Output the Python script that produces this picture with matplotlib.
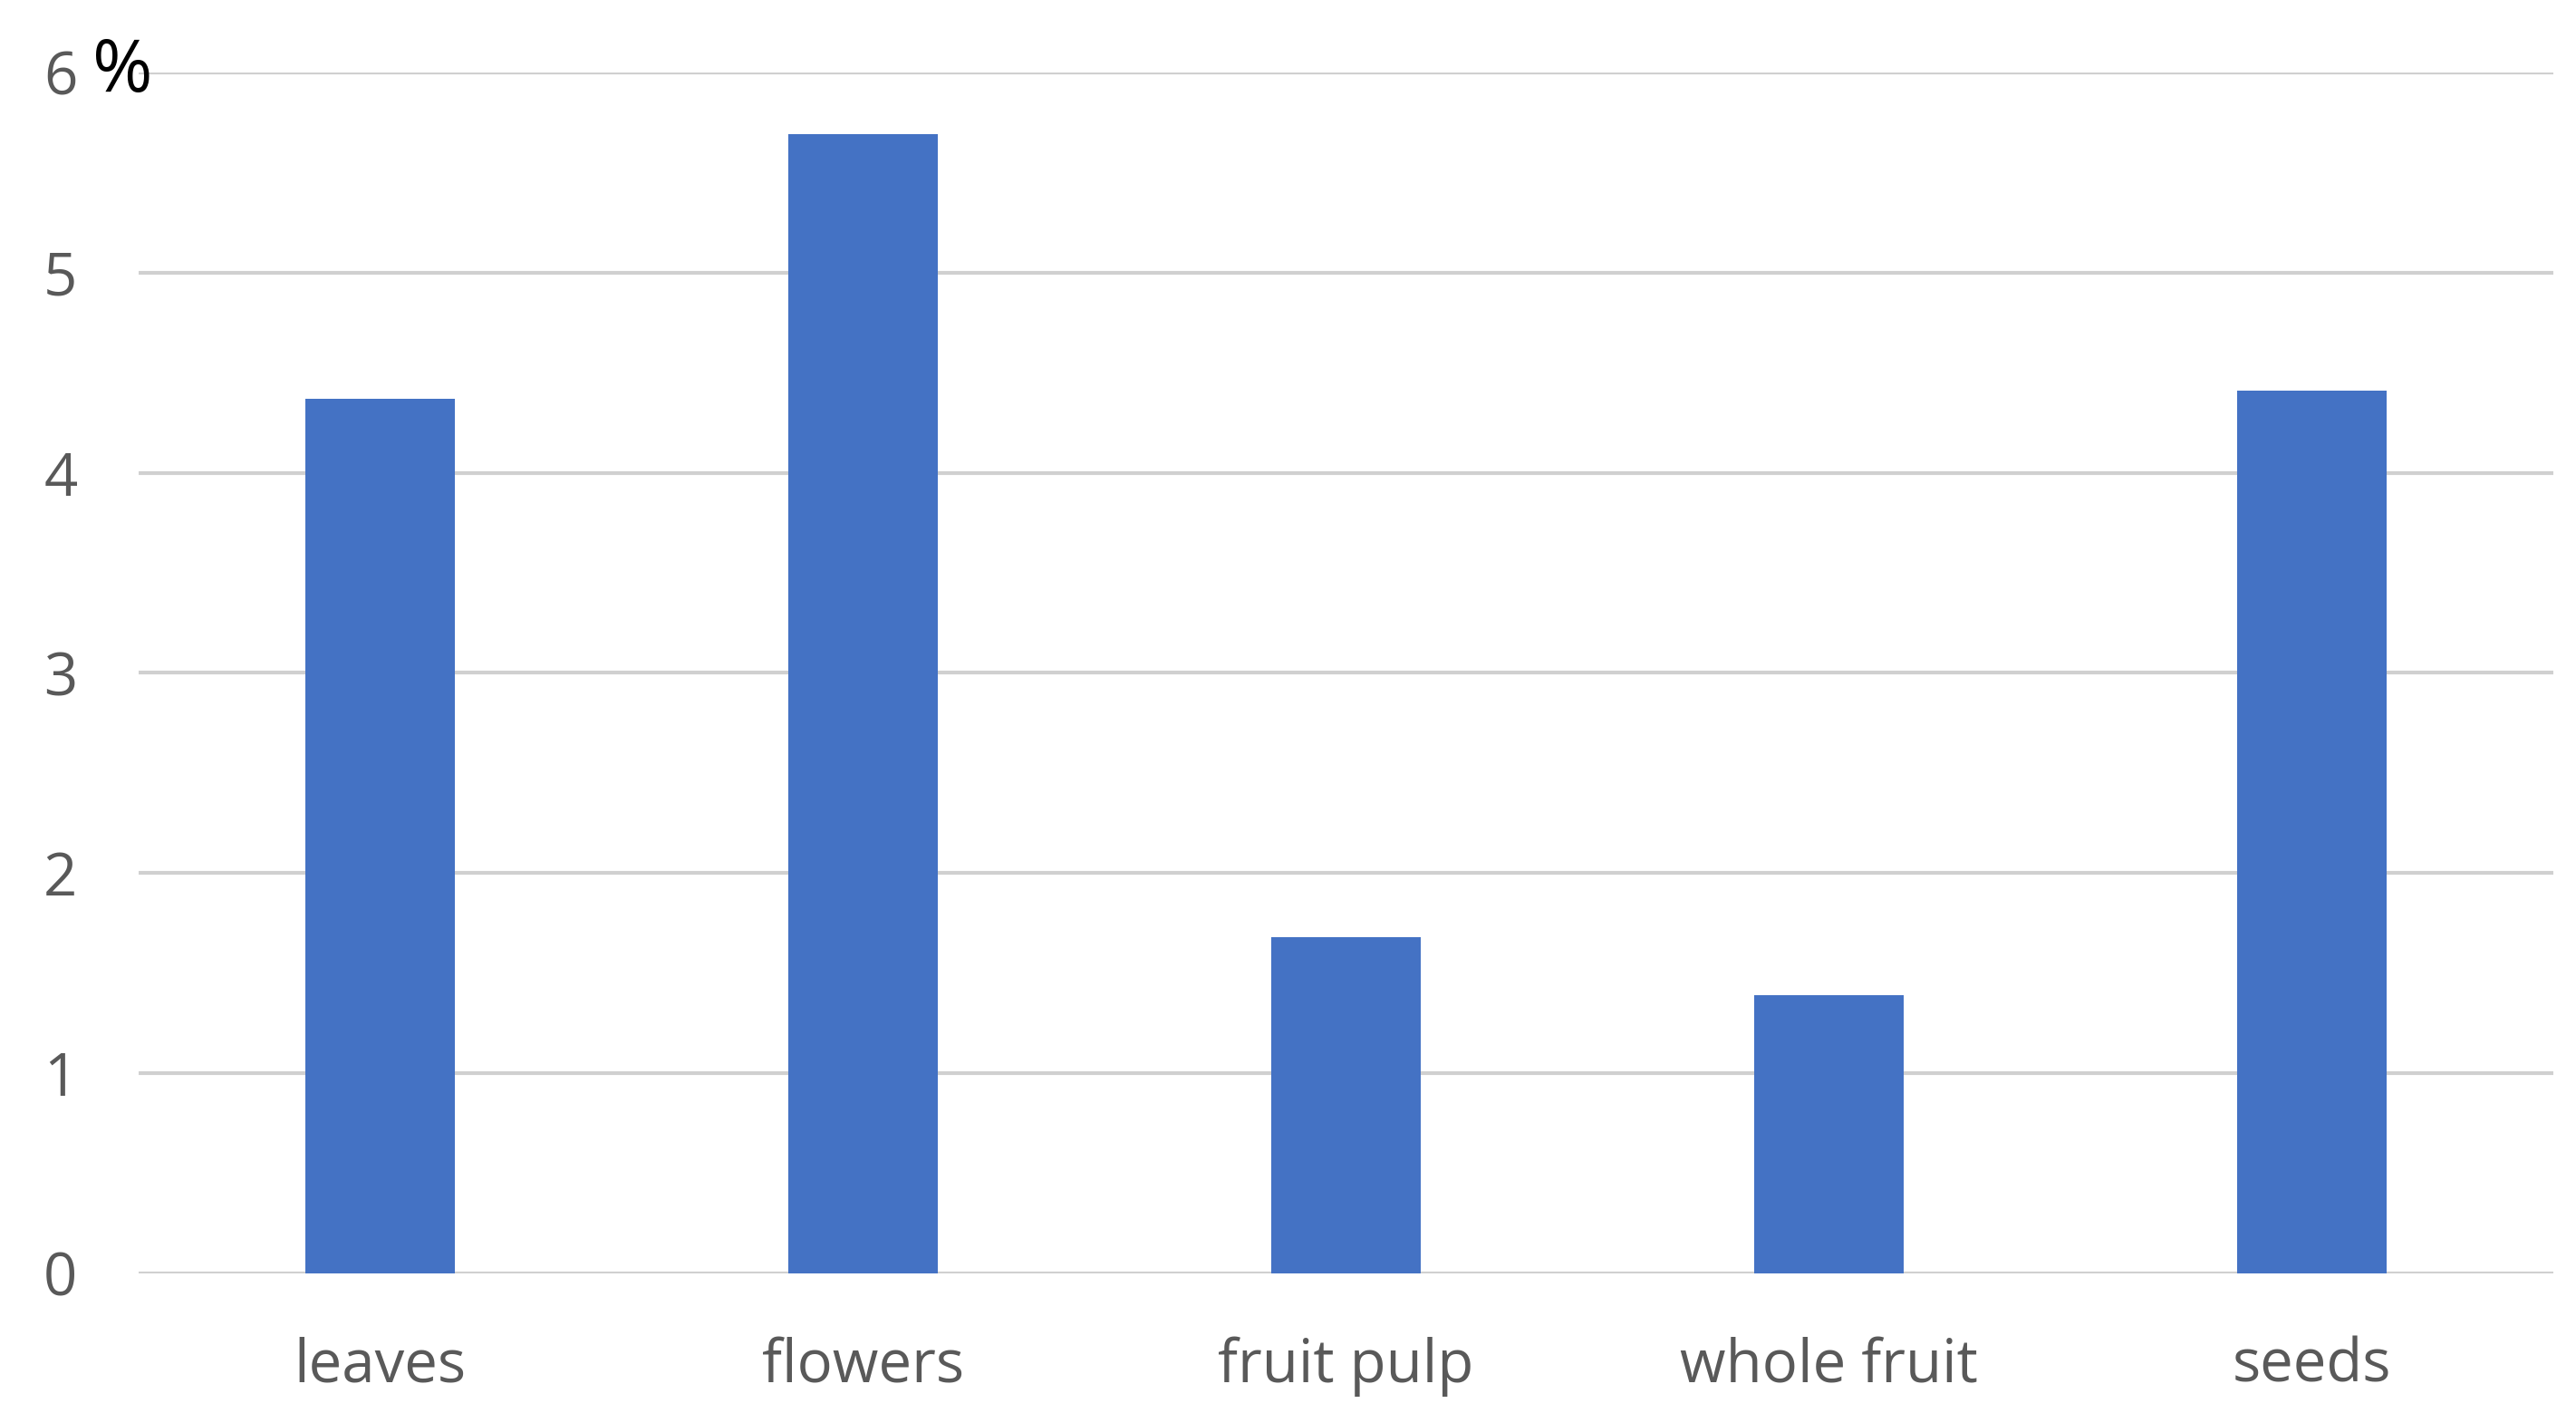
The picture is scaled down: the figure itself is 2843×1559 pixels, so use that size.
import matplotlib
matplotlib.use("Agg")
import matplotlib.pyplot as plt

# Data
categories = ["leaves", "flowers", "fruit pulp", "whole fruit", "seeds"]
values = [4.37, 5.69, 1.68, 1.39, 4.41]
yticks = [0, 1, 2, 3, 4, 5, 6]

BAR_COLOR = "#4472C4"
TEXT_COLOR = "#595959"
GRID_COLOR = "#d0d0d0"

plt.rcParams['font.family'] = ['Open Sans', 'DejaVu Sans']

fig = plt.figure(figsize=(28.43, 15.59), dpi=100)
ax = fig.add_axes([0.0538, 0.0988, 0.9374, 0.8499])

x = list(range(len(categories)))
ax.bar(x, values, width=0.31, color=BAR_COLOR, zorder=3)

ax.set_xlim(-0.5, len(categories) - 0.5)
ax.set_ylim(0, 6)
ax.set_yticks(yticks)
ax.set_yticklabels([str(t) for t in yticks])
ax.set_xticks(x)
ax.set_xticklabels(categories)

ax.grid(axis='y', color=GRID_COLOR, linewidth=3, zorder=0)
ax.set_axisbelow(True)
for side in ax.spines:
    ax.spines[side].set_visible(False)

ax.tick_params(axis='both', length=0, labelsize=47, labelcolor=TEXT_COLOR)
ax.tick_params(axis='y', pad=62)
ax.tick_params(axis='x', pad=50)
for lbl in ax.get_yticklabels():
    lbl.set_horizontalalignment('center')

# percent sign beside the top tick
ax.text(-0.0067, 6, "%", transform=ax.get_yaxis_transform(), fontsize=58,
        color="black", ha='center', va='center')

fig.savefig("out.png", dpi=100, facecolor="white")
